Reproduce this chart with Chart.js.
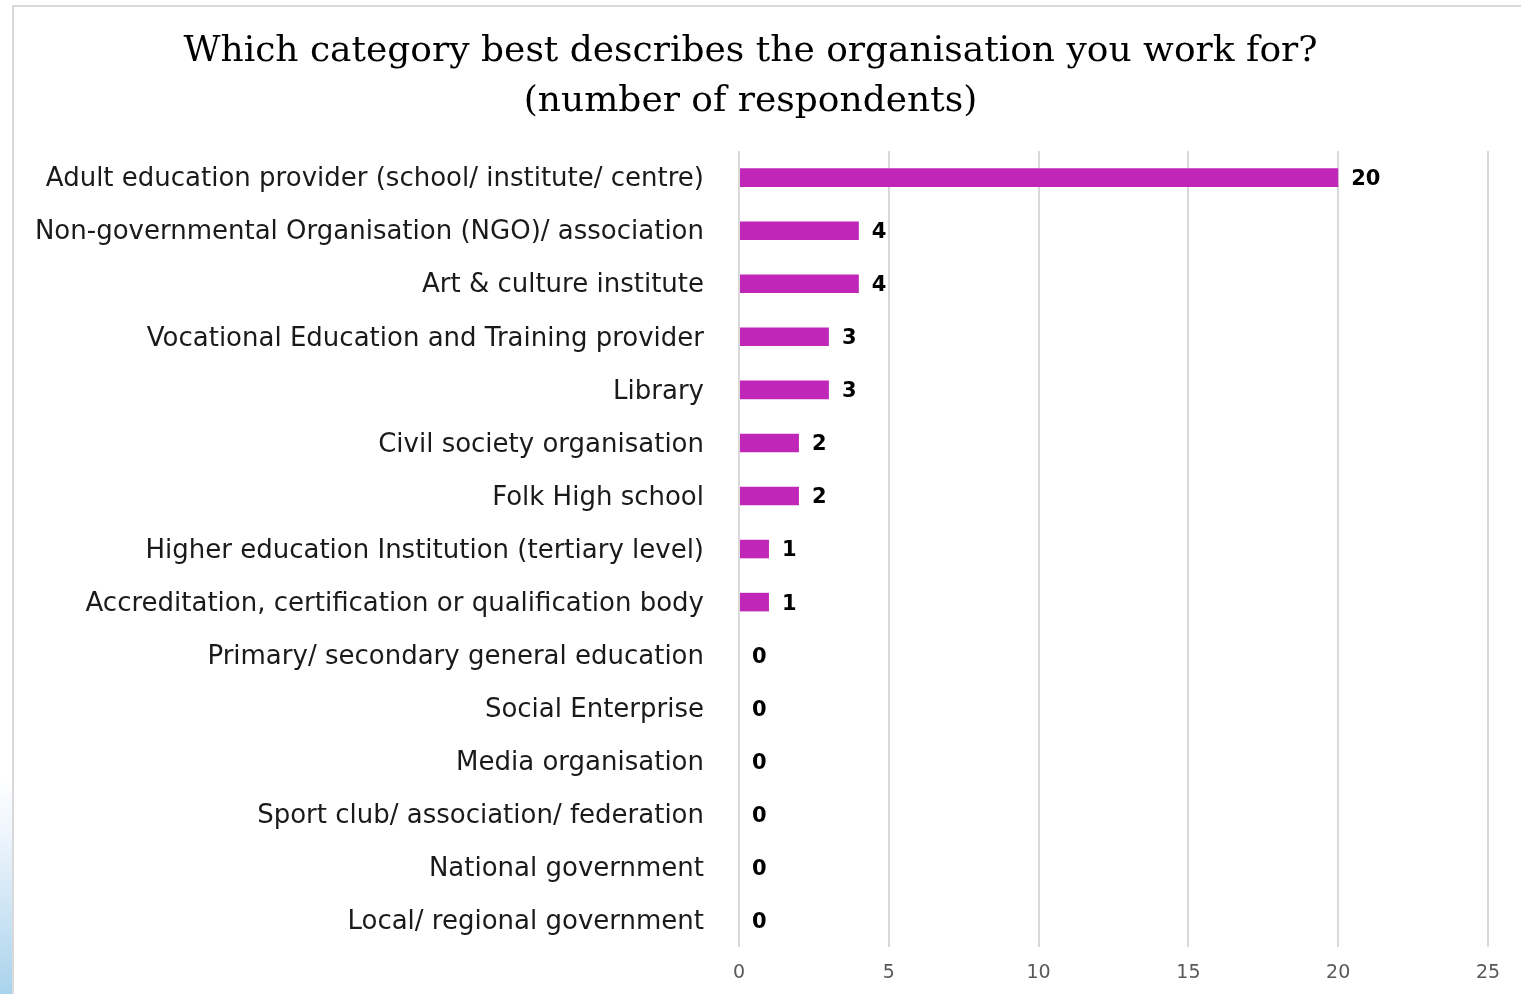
<!DOCTYPE html>
<html>
<head>
<meta charset="utf-8">
<script src="https://cdn.jsdelivr.net/npm/chart.js@4"></script>
<style>
  html, body { margin: 0; padding: 0; background: #fff; overflow: hidden; }
  #strip {
    position: absolute; left: 0; top: 0; width: 12px; height: 994px;
    background: linear-gradient(to bottom, #ffffff 0%, #ffffff 78%, #eef5fc 84%, #a9d3ec 100%);
  }
  #frame {
    position: absolute; left: 12px; top: 5px; width: 1520px; height: 1000px;
    border: 2px solid #d9d9d9; box-sizing: border-box; background: #fff;
  }
  #wrap { position: absolute; left: 13px; top: 7px; width: 1510px; height: 987px; }
</style>
</head>
<body>
<div id="strip"></div>
<div id="frame"></div>
<div id="wrap"><canvas id="chart"></canvas></div>
<script>
const categories = [
  'Adult education provider (school/ institute/ centre)',
  'Non-governmental Organisation (NGO)/ association',
  'Art & culture institute',
  'Vocational Education and Training provider',
  'Library',
  'Civil society organisation',
  'Folk High school',
  'Higher education Institution (tertiary level)',
  'Accreditation, certification or qualification body',
  'Primary/ secondary general education',
  'Social Enterprise',
  'Media organisation',
  'Sport club/ association/ federation',
  'National government',
  'Local/ regional government'
];
const respondents = [20, 4, 4, 3, 3, 2, 2, 1, 1, 0, 0, 0, 0, 0, 0];
const xTicks = [0, 5, 10, 15, 20, 25];

// draws the value next to each bar
const valueLabels = {
  id: 'valueLabels',
  afterDatasetsDraw(chart) {
    const ctx = chart.ctx;
    const meta = chart.getDatasetMeta(0);
    ctx.save();
    ctx.font = 'bold 21px "DejaVu Sans"';
    ctx.fillStyle = '#000';
    ctx.textAlign = 'left';
    ctx.textBaseline = 'middle';
    meta.data.forEach((bar, i) => {
      ctx.fillText(String(respondents[i]), bar.x + 13, bar.y + 2);
    });
    ctx.restore();
  }
};

new Chart(document.getElementById('chart'), {
  type: 'bar',
  data: {
    labels: categories,
    datasets: [{
      data: respondents,
      backgroundColor: '#c026b8',
      barPercentage: 0.35,
      categoryPercentage: 1.0
    }]
  },
  options: {
    indexAxis: 'y',
    responsive: true,
    maintainAspectRatio: false,
    animation: false,
    layout: { padding: { left: 0, right: 35, top: 0, bottom: 0 } },
    plugins: {
      legend: { display: false },
      tooltip: { enabled: false },
      title: {
        display: true,
        text: ['Which category best describes the organisation you work for?', '(number of respondents)'],
        color: '#000',
        font: { family: '"DejaVu Serif", serif', size: 36, weight: 'normal', lineHeight: 1.39 },
        padding: { top: 20, bottom: 24 }
      }
    },
    scales: {
      x: {
        min: 0,
        max: 25,
        afterBuildTicks(scale) { scale.ticks = xTicks.map(v => ({ value: v })); },
        afterFit(scale) { scale.height = 47; },
        grid: { color: '#d9d9d9', lineWidth: 2, drawTicks: false },
        border: { display: false },
        ticks: { color: '#595959', padding: 15, font: { family: '"DejaVu Sans"', size: 19 } }
      },
      y: {
        afterFit(scale) {
          scale.width = 726;
          // label padding should not push the plot area in from top/bottom
          scale.paddingTop = 0;
          scale.paddingBottom = 0;
        },
        grid: { display: false, drawTicks: false },
        border: { display: false },
        ticks: { color: '#1a1a1a', padding: 35, labelOffset: 2, font: { family: '"DejaVu Sans"', size: 26 } }
      }
    }
  },
  plugins: [valueLabels]
});
</script>
</body>
</html>
